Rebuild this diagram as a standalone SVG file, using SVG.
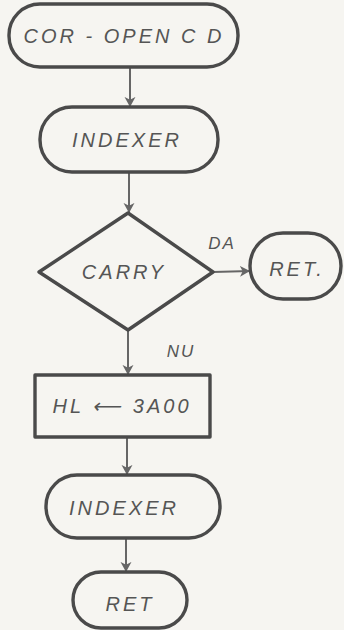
<svg xmlns="http://www.w3.org/2000/svg" width="344" height="630" viewBox="0 0 344 630">
<defs>
<marker id="arr" viewBox="0 0 12 14" refX="11" refY="7" markerWidth="11" markerHeight="14" orient="auto" markerUnits="userSpaceOnUse">
<path d="M0,1 L11,7 L0,13 L3,7 Z" fill="#666"/>
</marker>
</defs>
<style>
.shape{fill:none;stroke:#4a4a4a;stroke-width:3.4;stroke-linejoin:round}
.conn{fill:none;stroke:#666;stroke-width:2;marker-end:url(#arr)}
.t{font-family:"Liberation Sans",Arial,sans-serif;font-style:italic;font-size:20px;fill:#555;text-anchor:middle;letter-spacing:3px}
.lbl{font-family:"Liberation Sans",Arial,sans-serif;font-style:italic;font-size:17px;fill:#555;text-anchor:middle;letter-spacing:2px}
</style>
<rect width="344" height="630" fill="#f6f5f1"/>
<g id="connectors">
<line class="conn" x1="130" y1="67" x2="130" y2="107"/>
<line class="conn" x1="129" y1="172" x2="129" y2="213"/>
<line class="conn" x1="213" y1="272" x2="250" y2="271"/>
<line class="conn" x1="128" y1="330" x2="128" y2="375"/>
<line class="conn" x1="127" y1="437" x2="127" y2="475"/>
<line class="conn" x1="126" y1="538" x2="126" y2="572"/>
<text class="lbl" x="222" y="249">DA</text>
<text class="lbl" x="181" y="357">NU</text>
</g>
<g id="start">
<rect class="shape" x="9" y="4" width="229" height="63" rx="31" ry="31"/>
<text class="t" x="124" y="43">COR - OPEN C D</text>
</g>
<g id="indexer1">
<rect class="shape" x="40" y="107" width="178" height="65" rx="32" ry="32"/>
<text class="t" x="127" y="147">INDEXER</text>
</g>
<g id="carry">
<polygon class="shape" points="128,213 213,272 128,330 39,272"/>
<text class="t" x="124" y="279">CARRY</text>
</g>
<g id="ret1">
<rect class="shape" x="250" y="233" width="91" height="66" rx="33" ry="33"/>
<text class="t" x="297" y="276">RET.</text>
</g>
<g id="hl">
<rect class="shape" x="35" y="375" width="175" height="62"/>
<text class="t" x="122" y="413">HL ⟵ 3A00</text>
</g>
<g id="indexer2">
<rect class="shape" x="46" y="475" width="174" height="63" rx="31" ry="31"/>
<text class="t" x="124" y="515">INDEXER</text>
</g>
<g id="ret2">
<rect class="shape" x="73" y="572" width="114" height="56" rx="28" ry="28"/>
<text class="t" x="130" y="611">RET</text>
</g>
</svg>
